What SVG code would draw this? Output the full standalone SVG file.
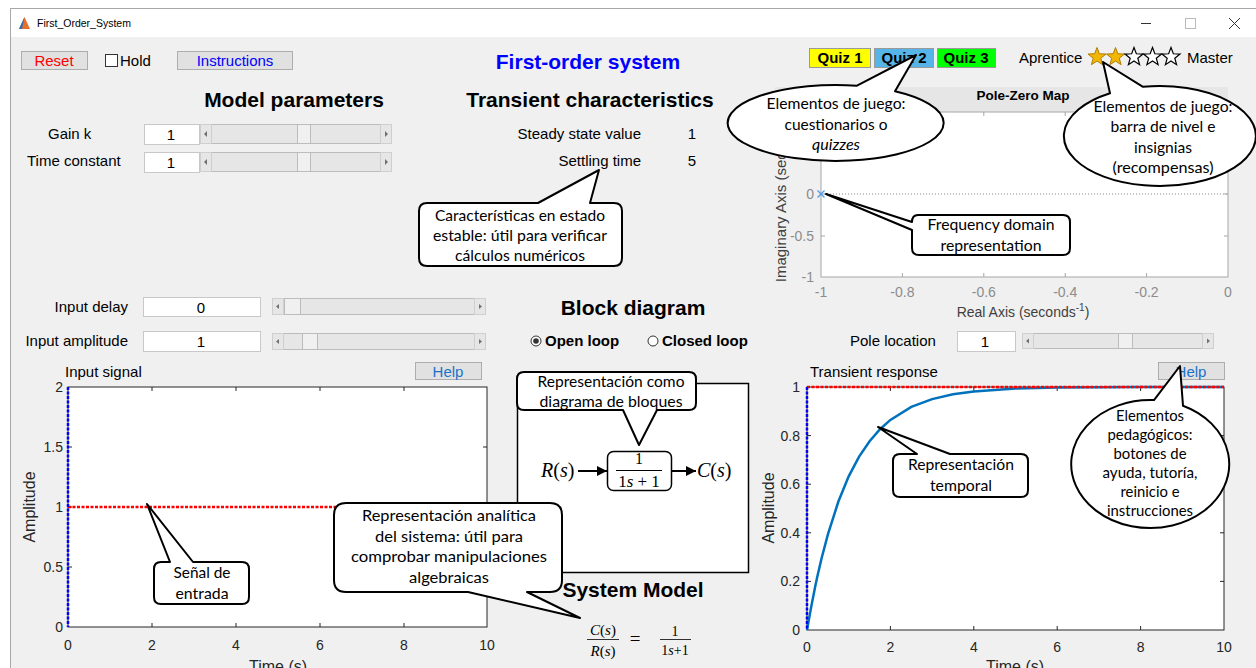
<svg xmlns="http://www.w3.org/2000/svg" width="1256" height="668" viewBox="0 0 1256 668">
<style>
.ui{font-family:"Liberation Sans",Arial,sans-serif;font-size:15px;fill:#000}
.h{font-family:"Liberation Sans",Arial,sans-serif;font-size:21px;font-weight:bold;fill:#000}
.tk{font-family:"Liberation Sans",Arial,sans-serif;font-size:14px;fill:#262626}
.lab{font-family:"Liberation Sans",Arial,sans-serif;font-size:16px;fill:#262626}
.tkg{font-family:"Liberation Sans",Arial,sans-serif;font-size:14px;fill:#8c8c8c}
.c{font-family:Lato,"Open Sans",sans-serif;font-size:15px;fill:#000;text-anchor:middle}
.btn{fill:#e1e1e1;stroke:#adadad;stroke-width:1}
.edit{fill:#fff;stroke:#c8c8c8;stroke-width:1}
.trk{fill:#e6e6e6;stroke:#bcbcbc;stroke-width:1}
.arr{fill:#e6e6e6;stroke:#cfcfcf;stroke-width:1}
.thumb{fill:#f0f0f0;stroke:#bcbcbc;stroke-width:1}
.tri{fill:#707070}
.ax{fill:#fff;stroke:#262626;stroke-width:1}
.axg{fill:#fff;stroke:#a6a6a6;stroke-width:1}
.tick{stroke:#262626;stroke-width:1}
.tickg{stroke:#a6a6a6;stroke-width:1}
.call{fill:#fff;stroke:#000;stroke-width:2;stroke-linejoin:round}
.mid{text-anchor:middle}
.end{text-anchor:end}
.ser{font-family:"Liberation Serif","Times New Roman",serif;fill:#000}
</style>
<defs>
<path id="star" d="M0,-9.5 L2.35,-3.24 L9.03,-2.94 L3.8,1.24 L5.58,7.69 L0,4 L-5.58,7.69 L-3.8,1.24 L-9.03,-2.94 L-2.35,-3.24 Z"/>
<marker id="ah" viewBox="0 0 10 10" refX="10" refY="5" markerWidth="10" markerHeight="10" markerUnits="userSpaceOnUse" orient="auto"><path d="M0,0 L10,5 L0,10 Z" fill="#000"/></marker>
</defs>
<rect width="1256" height="668" fill="#fff"/>
<g id="window">
<rect x="10" y="37" width="1246" height="631" fill="#f0f0f0"/>
<line x1="10" y1="8.5" x2="1256" y2="8.5" stroke="#a8a8a8"/>
<line x1="10.5" y1="8" x2="10.5" y2="668" stroke="#a8a8a8"/>
<path d="M19,29 L24.5,17 L30,29 Z" fill="#e8702a"/>
<path d="M19,29 L24.5,17 L22,29 Z" fill="#2a6fb5"/>
<text x="37" y="27" style="font-family:'Liberation Sans',Arial,sans-serif;font-size:10.5px;fill:#000">First_Order_System</text>
<line x1="1141" y1="23.5" x2="1151" y2="23.5" stroke="#333"/>
<rect x="1185.5" y="18.5" width="10" height="10" fill="none" stroke="#bbb"/>
<path d="M1229,18 L1240,29 M1240,18 L1229,29" stroke="#333" stroke-width="1"/>
</g>
<g id="top-controls">
<rect class="btn" x="21.5" y="51.5" width="66" height="18"/>
<text class="ui mid" x="54" y="65.5" style="fill:#ff0000">Reset</text>
<rect x="105.5" y="54.5" width="12" height="12" fill="#fff" stroke="#333"/>
<text class="ui" x="120" y="65.5">Hold</text>
<rect class="btn" x="177.5" y="51.5" width="115" height="18"/>
<text class="ui mid" x="235" y="66" style="fill:#0000ff">Instructions</text>
<text class="h mid" x="588" y="69" style="fill:#0000ff">First-order system</text>
</g>
<g id="model-parameters">
<text class="h mid" x="294" y="107">Model parameters</text>
<text class="ui" x="48" y="139">Gain k</text>
<text class="ui" x="27" y="166">Time constant</text>
<rect class="edit" x="144.5" y="124.5" width="55" height="20"/>
<text class="ui mid" x="171" y="140">1</text>
<rect class="edit" x="144.5" y="152.5" width="55" height="20"/>
<text class="ui mid" x="171" y="168">1</text>
<rect class="trk" x="200.5" y="124.5" width="191" height="19"/>
<rect class="arr" x="200.5" y="124.5" width="11" height="19"/><path class="tri" d="M207,131 L204,134 L207,137 Z"/>
<rect class="arr" x="380.5" y="124.5" width="11" height="19"/><path class="tri" d="M385,131 L388,134 L385,137 Z"/>
<rect class="thumb" x="297.5" y="124.5" width="13" height="19"/>
<rect class="trk" x="200.5" y="152.5" width="191" height="19"/>
<rect class="arr" x="200.5" y="152.5" width="11" height="19"/><path class="tri" d="M207,159 L204,162 L207,165 Z"/>
<rect class="arr" x="380.5" y="152.5" width="11" height="19"/><path class="tri" d="M385,159 L388,162 L385,165 Z"/>
<rect class="thumb" x="297.5" y="152.5" width="13" height="19"/>
</g>
<g id="transient-characteristics">
<text class="h mid" x="590" y="107">Transient characteristics</text>
<text class="ui end" x="641" y="139">Steady state value</text>
<text class="ui mid" x="692" y="139">1</text>
<text class="ui end" x="641" y="166">Settling time</text>
<text class="ui mid" x="692" y="166">5</text>
</g>
<g id="gamification">
<rect x="809.5" y="48.5" width="61" height="19" fill="#ffff00" stroke="#9a9a9a"/>
<text class="ui mid" x="840" y="63" style="font-weight:bold">Quiz 1</text>
<rect x="874.5" y="48.5" width="59" height="19" fill="#56b4e9" stroke="#9a9a9a"/>
<text class="ui mid" x="904" y="63" style="font-weight:bold">Quiz 2</text>
<rect x="937.5" y="48.5" width="58" height="19" fill="#00ff00" stroke="#9a9a9a"/>
<text class="ui mid" x="966" y="63" style="font-weight:bold">Quiz 3</text>
<text class="ui" x="1019" y="63">Aprentice</text>
<use href="#star" transform="translate(1097,57)" fill="#f2b705" stroke="#b07d00" stroke-width="1"/>
<use href="#star" transform="translate(1115.5,57)" fill="#f2b705" stroke="#b07d00" stroke-width="1"/>
<use href="#star" transform="translate(1134,57)" fill="#fff" stroke="#000" stroke-width="1.2"/>
<use href="#star" transform="translate(1152.5,57)" fill="#fff" stroke="#000" stroke-width="1.2"/>
<use href="#star" transform="translate(1171,57)" fill="#fff" stroke="#000" stroke-width="1.2"/>
<text class="ui" x="1187" y="63">Master</text>
</g>
<g id="pole-zero-map">
<rect x="775" y="87" width="453" height="25" fill="#e6e6e6"/>
<text class="mid" x="1023" y="100" style="font-family:'Liberation Sans',Arial,sans-serif;font-size:13.5px;font-weight:bold">Pole-Zero Map</text>
<rect class="axg" x="821" y="112" width="407" height="165"/>
<line x1="821" y1="194" x2="1228" y2="194" stroke="#8c8c8c" stroke-dasharray="1,2"/>
<path class="tickg" d="M902.4,277 v-4 M983.8,277 v-4 M1065.2,277 v-4 M1146.6,277 v-4 M902.4,112 v4 M983.8,112 v4 M1065.2,112 v4 M1146.6,112 v4 M821,236 h4 M821,194 h4 M821,153 h4 M1228,236 h-4 M1228,194 h-4 M1228,153 h-4"/>
<path d="M817.5,190.5 L824.5,197.5 M824.5,190.5 L817.5,197.5" stroke="#4d9be6" stroke-width="1.3"/>
<text class="tkg end" x="814" y="199">0</text>
<text class="tkg end" x="814" y="241">-0.5</text>
<text class="tkg end" x="814" y="282">-1</text>
<text class="tkg mid" x="821" y="297">-1</text>
<text class="tkg mid" x="902.4" y="297">-0.8</text>
<text class="tkg mid" x="983.8" y="297">-0.6</text>
<text class="tkg mid" x="1065.2" y="297">-0.4</text>
<text class="tkg mid" x="1146.6" y="297">-0.2</text>
<text class="tkg mid" x="1228" y="297">0</text>
<text class="tk mid" x="1023" y="317" style="fill:#404040">Real Axis (seconds<tspan dy="-6" font-size="10">-1</tspan><tspan dy="6">)</tspan></text>
<text class="tk mid" transform="translate(786,194) rotate(-90)" style="fill:#404040;font-size:15px">Imaginary Axis (seconds<tspan dy="-6" font-size="10">-1</tspan><tspan dy="6">)</tspan></text>
</g>
<g id="input-controls">
<text class="ui end" x="128" y="312">Input delay</text>
<text class="ui end" x="128" y="346">Input amplitude</text>
<rect class="edit" x="143.5" y="297.5" width="117" height="19"/>
<text class="ui mid" x="201" y="312.5">0</text>
<rect class="edit" x="143.5" y="331.5" width="117" height="20"/>
<text class="ui mid" x="201" y="347">1</text>
<rect class="trk" x="272.5" y="298.5" width="213" height="16"/>
<rect class="arr" x="272.5" y="298.5" width="11" height="16"/><path class="tri" d="M279,304 L276,306.5 L279,309 Z"/>
<rect class="arr" x="474.5" y="298.5" width="11" height="16"/><path class="tri" d="M479,304 L482,306.5 L479,309 Z"/>
<rect class="thumb" x="284.5" y="298.5" width="16" height="16"/>
<rect class="trk" x="272.5" y="333.5" width="213" height="16"/>
<rect class="arr" x="272.5" y="333.5" width="11" height="16"/><path class="tri" d="M279,339 L276,341.5 L279,344 Z"/>
<rect class="arr" x="474.5" y="333.5" width="11" height="16"/><path class="tri" d="M479,339 L482,341.5 L479,344 Z"/>
<rect class="thumb" x="302.5" y="333.5" width="15" height="16"/>
</g>
<g id="input-signal-plot">
<text class="ui" x="65" y="377">Input signal</text>
<rect class="btn" x="415.5" y="362.5" width="66" height="17"/>
<text class="ui mid" x="448" y="377" style="fill:#1a73c9">Help</text>
<rect class="ax" x="68" y="387" width="419" height="240"/>
<path class="tick" d="M152,627 v-4 M236,627 v-4 M320,627 v-4 M404,627 v-4 M152,387 v4 M236,387 v4 M320,387 v4 M404,387 v4 M68,447 h4 M68,507 h4 M68,567 h4 M487,447 h-4 M487,507 h-4 M487,567 h-4"/>
<line x1="68" y1="507" x2="487" y2="507" stroke="#ff0000" stroke-width="2.5" stroke-dasharray="3,1.5"/>
<line x1="68" y1="387" x2="68" y2="627" stroke="#0000ff" stroke-width="2.5" stroke-dasharray="3,1.5"/>
<text class="tk end" x="63" y="392">2</text>
<text class="tk end" x="63" y="452">1.5</text>
<text class="tk end" x="63" y="512">1</text>
<text class="tk end" x="63" y="572">0.5</text>
<text class="tk end" x="63" y="632">0</text>
<text class="tk mid" x="68" y="650">0</text>
<text class="tk mid" x="152" y="650">2</text>
<text class="tk mid" x="236" y="650">4</text>
<text class="tk mid" x="320" y="650">6</text>
<text class="tk mid" x="404" y="650">8</text>
<text class="tk mid" x="487" y="650">10</text>
<text class="lab mid" x="278" y="672">Time (s)</text>
<text class="lab mid" transform="translate(35,507) rotate(-90)">Amplitude</text>
</g>
<g id="block-diagram">
<text class="h mid" x="633" y="315">Block diagram</text>
<circle cx="536" cy="341" r="5" fill="#fff" stroke="#333"/>
<circle cx="536" cy="341" r="2.8" fill="#333"/>
<text class="ui" x="545" y="346" style="font-weight:bold">Open loop</text>
<circle cx="653" cy="341" r="5" fill="#fff" stroke="#333"/>
<text class="ui" x="662" y="346" style="font-weight:bold">Closed loop</text>
<rect x="517.5" y="383.5" width="231" height="189" fill="#fff" stroke="#000" stroke-width="1.5"/>
<text class="ser" x="541" y="477" font-size="20"><tspan font-style="italic">R</tspan>(<tspan font-style="italic">s</tspan>)</text>
<line x1="578" y1="471" x2="607" y2="471" stroke="#000" stroke-width="2" marker-end="url(#ah)"/>
<rect x="607.5" y="451.5" width="64" height="39" rx="6" fill="#fff" stroke="#000" stroke-width="1.5"/>
<text class="ser mid" x="639" y="464" font-size="16">1</text>
<line x1="616" y1="470.5" x2="662" y2="470.5" stroke="#000" stroke-width="1"/>
<text class="ser mid" x="639" y="487" font-size="17">1<tspan font-style="italic">s</tspan> + 1</text>
<line x1="671" y1="471" x2="696" y2="471" stroke="#000" stroke-width="2" marker-end="url(#ah)"/>
<text class="ser" x="697" y="477" font-size="20"><tspan font-style="italic">C</tspan>(<tspan font-style="italic">s</tspan>)</text>
</g>
<g id="system-model">
<text class="h mid" x="633" y="597">System Model</text>
<text class="ser mid" x="603" y="635" font-size="15"><tspan font-style="italic">C</tspan>(<tspan font-style="italic">s</tspan>)</text>
<line x1="587" y1="639.5" x2="619" y2="639.5" stroke="#000" stroke-width="0.8"/>
<text class="ser mid" x="603" y="656" font-size="15"><tspan font-style="italic">R</tspan>(<tspan font-style="italic">s</tspan>)</text>
<text class="ser mid" x="635" y="645" font-size="19">=</text>
<text class="ser mid" x="675" y="636" font-size="14">1</text>
<line x1="660" y1="639.5" x2="691" y2="639.5" stroke="#000" stroke-width="0.8"/>
<text class="ser mid" x="675" y="655" font-size="14">1<tspan font-style="italic">s</tspan>+1</text>
</g>
<g id="pole-location">
<text class="ui" x="850" y="346">Pole location</text>
<rect class="edit" x="957.5" y="331.5" width="58" height="20"/>
<text class="ui mid" x="985" y="347">1</text>
<rect class="trk" x="1022.5" y="333.5" width="191" height="15"/>
<rect class="arr" x="1022.5" y="333.5" width="11" height="15"/><path class="tri" d="M1029,338.5 L1026,341 L1029,343.5 Z"/>
<rect class="arr" x="1202.5" y="333.5" width="11" height="15"/><path class="tri" d="M1207,338.5 L1210,341 L1207,343.5 Z"/>
<rect class="thumb" x="1118.5" y="333.5" width="14" height="15"/>
</g>
<g id="transient-response-plot">
<text class="ui" x="810" y="377">Transient response</text>
<rect class="btn" x="1158.5" y="362.5" width="66" height="17"/>
<text class="ui mid" x="1191" y="377" style="fill:#1a73c9">Help</text>
<rect class="ax" x="807" y="387" width="417" height="243"/>
<path class="tick" d="M890.4,630 v-4 M973.8,630 v-4 M1057.2,630 v-4 M1140.6,630 v-4 M890.4,387 v4 M973.8,387 v4 M1057.2,387 v4 M1140.6,387 v4 M807,581.4 h4 M807,532.8 h4 M807,484.2 h4 M807,435.6 h4 M1224,581.4 h-4 M1224,532.8 h-4 M1224,484.2 h-4 M1224,435.6 h-4"/>
<polyline fill="none" stroke="#0072bd" stroke-width="2.5" points="807,630 811.2,606.9 815.3,585.9 817.4,576.3 821.6,558.2 827.9,534.4 838.3,501.8 848.7,476.4 859.1,456.6 869.6,441.2 880,429.2 890.4,419.9 911.3,406.9 932.1,399.1 953,394.3 973.8,391.4 1015.5,388.6 1057.2,387.6 1140.6,387.1 1224,387"/>
<line x1="807" y1="387" x2="1224" y2="387" stroke="#ff0000" stroke-width="2.5" stroke-dasharray="3,1.5"/>
<line x1="807" y1="387" x2="807" y2="630" stroke="#0000ff" stroke-width="2.5" stroke-dasharray="3,1.5"/>
<text class="tk end" x="800" y="392">1</text>
<text class="tk end" x="800" y="440.6">0.8</text>
<text class="tk end" x="800" y="489.2">0.6</text>
<text class="tk end" x="800" y="537.8">0.4</text>
<text class="tk end" x="800" y="586.4">0.2</text>
<text class="tk end" x="800" y="635">0</text>
<text class="tk mid" x="807" y="652">0</text>
<text class="tk mid" x="890.4" y="652">2</text>
<text class="tk mid" x="973.8" y="652">4</text>
<text class="tk mid" x="1057.2" y="652">6</text>
<text class="tk mid" x="1140.6" y="652">8</text>
<text class="tk mid" x="1224" y="652">10</text>
<text class="lab mid" x="1015" y="672">Time (s)</text>
<text class="lab mid" transform="translate(774,508) rotate(-90)">Amplitude</text>
</g>
<g id="callouts">
<g id="callout-steady">
<path class="call" d="M427,203 L538,203 L599,170 L590,203 L614,203 Q622,203 622,211 L622,258 Q622,266 614,266 L427,266 Q419,266 419,258 L419,211 Q419,203 427,203 Z"/>
<text class="c" x="520" y="221" textLength="170" lengthAdjust="spacingAndGlyphs">Características en estado</text>
<text class="c" x="520" y="241" textLength="174" lengthAdjust="spacingAndGlyphs">estable: útil para verificar</text>
<text class="c" x="520" y="261" textLength="130" lengthAdjust="spacingAndGlyphs">cálculos numéricos</text>
</g>
<g id="callout-quizzes">
<path class="call" d="M857,85.7 L916,55 L895,91.2 A108,38 0 1 1 857,85.7 Z"/>
<text class="c" x="836" y="109" textLength="139" lengthAdjust="spacingAndGlyphs">Elementos de juego:</text>
<text class="c" x="836" y="130" textLength="103" lengthAdjust="spacingAndGlyphs">cuestionarios o</text>
<text class="c" x="836" y="150" font-style="italic" textLength="48" lengthAdjust="spacingAndGlyphs">quizzes</text>
</g>
<g id="callout-level">
<path class="call" d="M1110,93.3 L1103,62 L1143,86.8 A96,50 0 1 1 1110,93.3 Z"/>
<text class="c" x="1163" y="112" textLength="139" lengthAdjust="spacingAndGlyphs">Elementos de juego:</text>
<text class="c" x="1163" y="132" textLength="105" lengthAdjust="spacingAndGlyphs">barra de nivel e</text>
<text class="c" x="1163" y="153" textLength="58" lengthAdjust="spacingAndGlyphs">insignias</text>
<text class="c" x="1163" y="173" textLength="101" lengthAdjust="spacingAndGlyphs">(recompensas)</text>
</g>
<g id="callout-frequency">
<path class="call" d="M918,215 L1063,215 Q1070,215 1070,222 L1070,248 Q1070,255 1063,255 L919,255 Q912,255 912,248 L912,230 L826,194 L912,222 Q912,215 918,215 Z"/>
<text class="c" x="991" y="230" textLength="127" lengthAdjust="spacingAndGlyphs">Frequency domain</text>
<text class="c" x="991" y="251" textLength="101" lengthAdjust="spacingAndGlyphs">representation</text>
</g>
<g id="callout-input">
<path class="call" d="M161,562 L170,562 L147,504 L193,562 L242,562 Q249,562 249,569 L249,597 Q249,604 242,604 L161,604 Q154,604 154,597 L154,569 Q154,562 161,562 Z"/>
<text class="c" x="202" y="578" textLength="57" lengthAdjust="spacingAndGlyphs">Señal de</text>
<text class="c" x="202" y="599" textLength="53" lengthAdjust="spacingAndGlyphs">entrada</text>
</g>
<g id="callout-block">
<path class="call" d="M524,372 L689,372 Q696,372 696,379 L696,403 Q696,410 689,410 L657,410 L639,445 L623,410 L524,410 Q517,410 517,403 L517,379 Q517,372 524,372 Z"/>
<text class="c" x="611" y="387" textLength="147" lengthAdjust="spacingAndGlyphs">Representación como</text>
<text class="c" x="611" y="407" textLength="143" lengthAdjust="spacingAndGlyphs">diagrama de bloques</text>
</g>
<g id="callout-analytic">
<path class="call" d="M346,503 L550,503 Q562,503 562,515 L562,580 Q562,592 550,592 L527,592 L580,618 L468,592 L346,592 Q334,592 334,580 L334,515 Q334,503 346,503 Z"/>
<text class="c" x="449" y="521" textLength="174" lengthAdjust="spacingAndGlyphs">Representación analítica</text>
<text class="c" x="449" y="542" textLength="148" lengthAdjust="spacingAndGlyphs">del sistema: útil para</text>
<text class="c" x="449" y="562" textLength="196" lengthAdjust="spacingAndGlyphs">comprobar manipulaciones</text>
<text class="c" x="449" y="583" textLength="80" lengthAdjust="spacingAndGlyphs">algebraicas</text>
</g>
<g id="callout-temporal">
<path class="call" d="M900,454 L917,454 L878,427 L950,454 L1021,454 Q1028,454 1028,461 L1028,490 Q1028,497 1021,497 L900,497 Q893,497 893,490 L893,461 Q893,454 900,454 Z"/>
<text class="c" x="961" y="470" textLength="106" lengthAdjust="spacingAndGlyphs">Representación</text>
<text class="c" x="961" y="491" textLength="62" lengthAdjust="spacingAndGlyphs">temporal</text>
</g>
<g id="callout-pedagogic">
<path class="call" d="M1154,400.1 L1180,366 L1183,405.8 A79,64 0 1 1 1154,400.1 Z"/>
<text class="c" x="1150" y="421" textLength="68" lengthAdjust="spacingAndGlyphs">Elementos</text>
<text class="c" x="1150" y="440" textLength="85" lengthAdjust="spacingAndGlyphs">pedagógicos:</text>
<text class="c" x="1150" y="459" textLength="73" lengthAdjust="spacingAndGlyphs">botones de</text>
<text class="c" x="1150" y="478" textLength="95" lengthAdjust="spacingAndGlyphs">ayuda, tutoría,</text>
<text class="c" x="1150" y="497" textLength="59" lengthAdjust="spacingAndGlyphs">reinicio e</text>
<text class="c" x="1150" y="516" textLength="86" lengthAdjust="spacingAndGlyphs">instrucciones</text>
</g>
</g>
</svg>
